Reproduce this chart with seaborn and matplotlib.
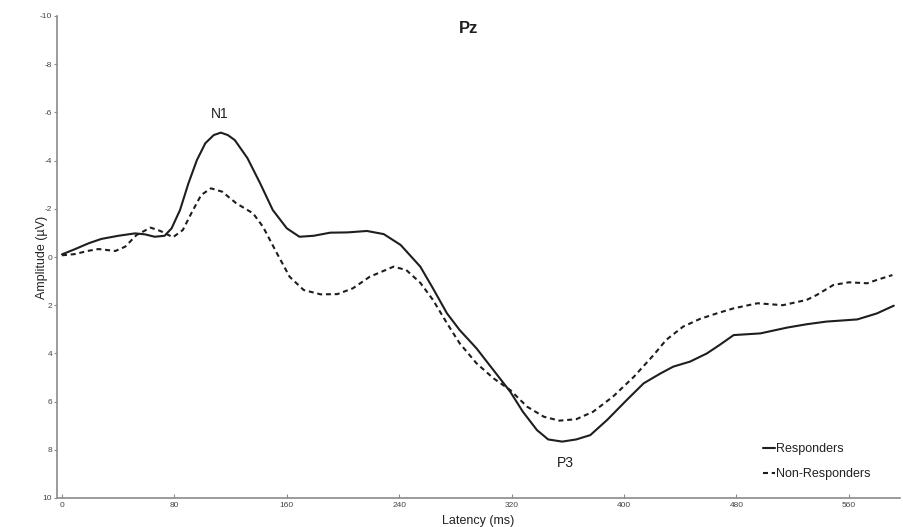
import numpy as np
import pandas as pd
import matplotlib
matplotlib.use("Agg")
import matplotlib.pyplot as plt
import seaborn as sns

# latencia (ms) e amplitude (uV)
t_resp = [0, 9, 19, 28, 40, 52, 59, 66, 73, 78, 84, 90, 96, 102, 108, 113, 118, 123,
          132, 141, 150, 160, 169, 179, 191, 203, 217, 229, 241, 255, 264, 274, 283,
          295, 307, 319, 328, 338, 346, 356, 366, 376, 388, 402, 414, 426, 435, 447,
          459, 468, 478, 497, 516, 530, 544, 566, 580, 592]
v_resp = [-0.11, -0.32, -0.57, -0.75, -0.88, -0.98, -0.94, -0.84, -0.88, -1.19, -1.95,
          -3.06, -4.02, -4.72, -5.06, -5.16, -5.06, -4.85, -4.1, -3.06, -1.95, -1.19,
          -0.84, -0.88, -1.01, -1.02, -1.08, -0.95, -0.5, 0.4, 1.3, 2.34, 3.03, 3.79,
          4.69, 5.59, 6.42, 7.18, 7.57, 7.66, 7.57, 7.39, 6.76, 5.93, 5.24, 4.83, 4.55,
          4.34, 4.0, 3.65, 3.24, 3.17, 2.93, 2.79, 2.68, 2.59, 2.34, 2.02]

t_nonresp = [0, 9, 19, 26, 38, 45, 53, 63, 70, 79, 86, 92, 99, 106, 114, 124, 136, 143,
             153, 162, 172, 184, 196, 207, 219, 236, 245, 255, 264, 274, 283, 295, 307,
             319, 331, 343, 354, 366, 378, 392, 407, 421, 430, 442, 454, 466, 478, 495,
             513, 530, 537, 549, 560, 573, 580, 591]
v_nonresp = [-0.07, -0.12, -0.26, -0.33, -0.25, -0.43, -0.91, -1.22, -1.08, -0.82, -1.12,
             -1.81, -2.57, -2.85, -2.71, -2.23, -1.81, -1.26, -0.15, 0.82, 1.37, 1.55,
             1.54, 1.3, 0.82, 0.4, 0.54, 1.07, 1.78, 2.75, 3.58, 4.41, 5.03, 5.52, 6.21,
             6.63, 6.79, 6.73, 6.42, 5.8, 4.97, 4.07, 3.44, 2.89, 2.57, 2.34, 2.13, 1.92,
             2.0, 1.78, 1.58, 1.16, 1.05, 1.09, 0.95, 0.75]

x_ticks = [0, 80, 160, 240, 320, 400, 480, 560]
y_ticks = [-10, -8, -6, -4, -2, 0, 2, 4, 6, 8, 10]

df_resp = pd.DataFrame({"Latency": t_resp, "Amplitude": v_resp})
df_non = pd.DataFrame({"Latency": t_nonresp, "Amplitude": v_nonresp})

sns.set_style("white")
plt.rcParams["font.family"] = ["Liberation Sans", "DejaVu Sans"]

fig = plt.figure(figsize=(9.04, 5.27), dpi=100)
ax = fig.add_axes([57.5 / 904, 29 / 527, 842.5 / 904, 482 / 527])

sns.lineplot(data=df_resp, x="Latency", y="Amplitude", ax=ax, color="#1e1e1e",
             linewidth=1.5, label="Responders")
sns.lineplot(data=df_non, x="Latency", y="Amplitude", ax=ax, color="#1e1e1e",
             linewidth=1.5, linestyle=(0, (2.4, 1.8)), label="Non-Responders")

ax.set_xlim(-3.2, 596.4)
ax.set_ylim(10, -10)
ax.set_xticks(x_ticks)
ax.set_yticks(y_ticks)
ax.set_xticklabels([str(v) for v in x_ticks])
ax.set_yticklabels([str(v) for v in y_ticks])

for s in ["top", "right"]:
    ax.spines[s].set_visible(False)
for s in ["left", "bottom"]:
    ax.spines[s].set_color("#8a8a8a")
    ax.spines[s].set_linewidth(1.2)

ax.tick_params(axis="x", direction="in", length=3, width=0.8, color="#8a8a8a",
               labelsize=6, labelcolor="#444444", pad=3, bottom=True)
ax.tick_params(axis="y", direction="out", length=2.5, width=0.8, color="#8a8a8a",
               labelsize=6, labelcolor="#444444", pad=1.5, left=True)

ax.set_xlabel("Latency (ms)", fontsize=9, color="#222222")
ax.set_ylabel("Amplitude (µV)", fontsize=9, color="#222222")
ax.xaxis.set_label_coords(0.499, -0.035)
ax.yaxis.set_label_coords(-0.0115, 0.5)

ax.text(289, -9.47, "Pz", fontsize=12, fontweight="bold", ha="center", va="center",
        color="#1e1e1e")
ax.text(112, -5.95, "N1", fontsize=10, ha="center", va="center", color="#1e1e1e")
ax.text(358, 8.55, "P3", fontsize=10, ha="center", va="center", color="#1e1e1e")

leg = ax.legend(loc="upper left", bbox_to_anchor=(0.8294, 0.127), frameon=False,
                fontsize=9, handlelength=1.0, handletextpad=0.05, labelspacing=1.05,
                borderpad=0)
for txt in leg.get_texts():
    txt.set_color("#222222")

fig.savefig("out.png", dpi=100)
